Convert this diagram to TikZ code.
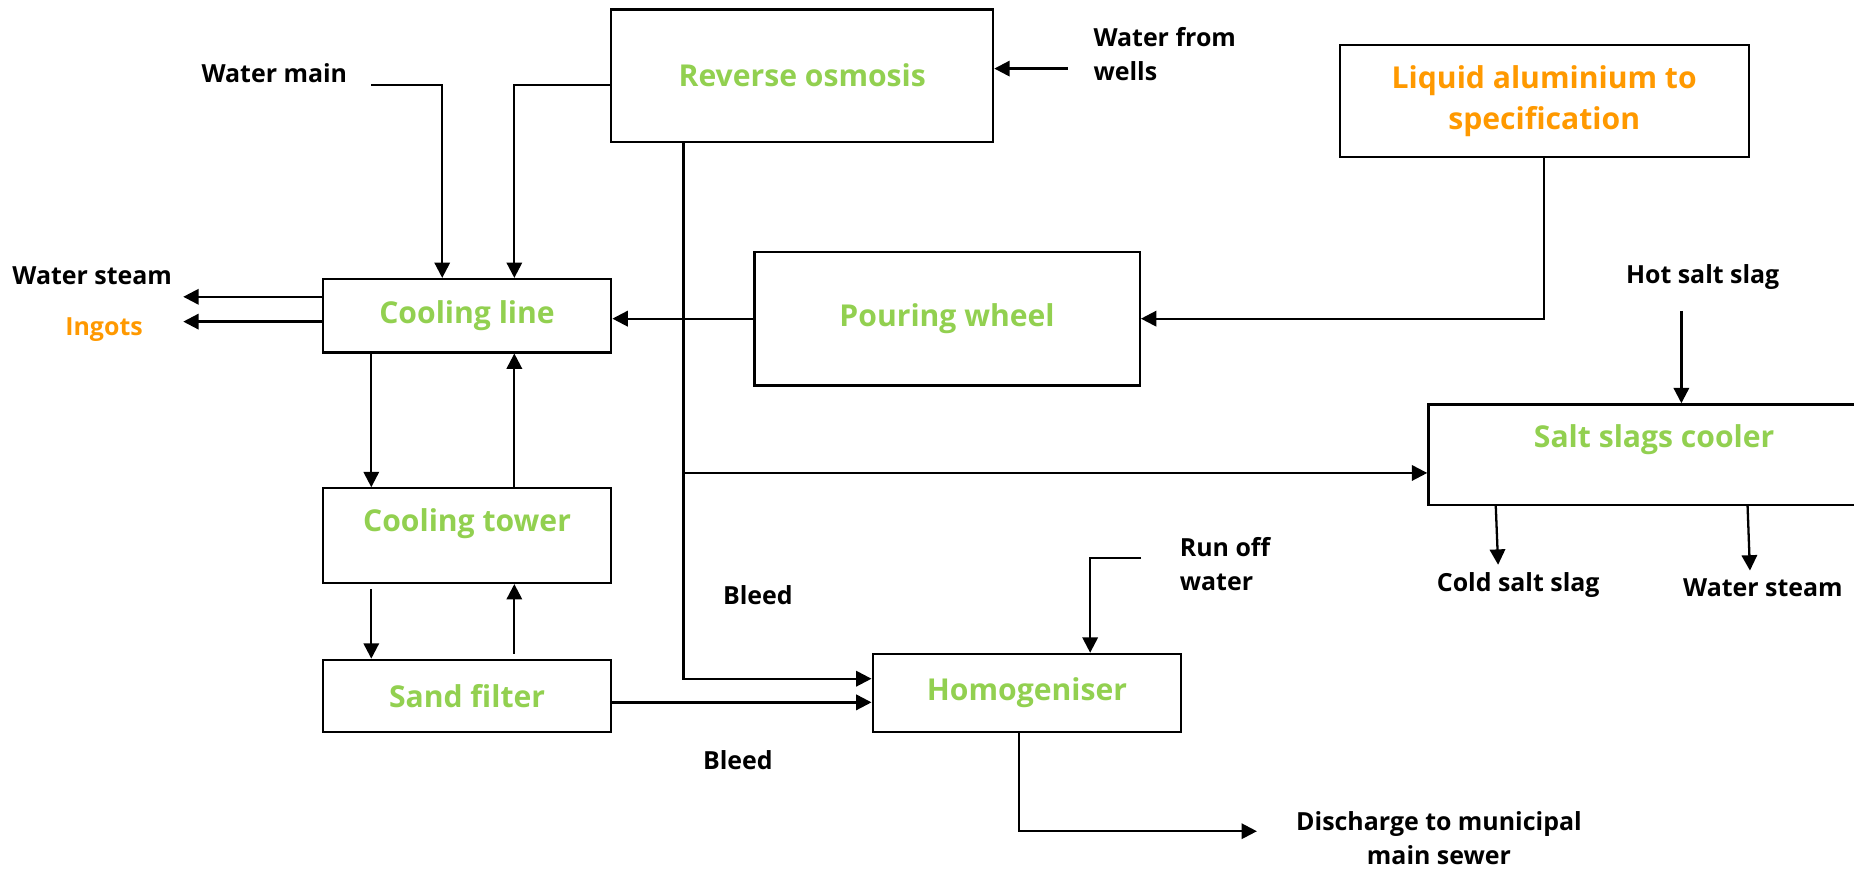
\documentclass[tikz,border=0pt]{standalone}
\usepackage{fontspec}
\setmainfont{Open Sans}
\usetikzlibrary{arrows.meta}

\definecolor{procgreen}{HTML}{92D050}
\definecolor{feedorange}{HTML}{FF9900}

\def\loopw{4.88cm}
\def\downx{-1.62cm}
\def\upx{0.8cm}

\begin{document}
\begin{tikzpicture}[x=0.02cm, y=-0.02cm, line width=1.1pt,
    gtxt/.style={font=\bfseries\fontsize{14.5}{19.5}\selectfont, text=procgreen, align=center},
    box/.style={draw, rectangle, inner sep=0pt, gtxt},
    lbl/.style={font=\bfseries\fontsize{12}{16.5}\selectfont, align=left},
    arr/.style={-{Triangle[length=0.26cm,width=0.26cm]}}]
    \useasboundingbox (0,0) rectangle (1568,738);

    % process units
    \node[box, minimum width=6.46cm, minimum height=2.24cm] (ro) at (678.5,64) {Reverse osmosis};
    \node[box, text=feedorange, minimum width=6.92cm, minimum height=1.9cm] (liq) at (1306,85.5) {Liquid aluminium to\\specification};
    \node[box, minimum width=6.52cm, minimum height=2.26cm] (pw) at (801,269.5) {Pouring wheel};
    \node[box, minimum width=\loopw, minimum height=1.24cm] (cl) at (395,267) {Cooling line};
    \node[box, minimum width=\loopw, minimum height=1.6cm,
        label={[gtxt, yshift=0.2cm]center:Cooling tower}] (ct) at (395,453) {};
    \node[box, minimum width=\loopw, minimum height=1.22cm] (sf) at (395,588.5) {Sand filter};
    \node[box, minimum width=5.22cm, minimum height=1.32cm] (hom) at (868.5,586) {Homogeniser};
    \node[box, minimum width=7.64cm, minimum height=1.7cm,
        label={[gtxt, yshift=0.26cm]center:Salt slags cooler}] (ssc) at (1399,384.5) {};

    % stream labels
    \node[lbl] (wm) at (232,62) {Water main};
    \node[lbl, anchor=west] (wfw) at (918,46) {Water from\\wells};
    \node[lbl] (wsl) at (78,233) {Water steam};
    \node[lbl, text=feedorange] (ing) at (88,279) {Ingots};
    \node[lbl] (hss) at (1440,234) {Hot salt slag};
    \node[lbl] (csl) at (1284,495) {Cold salt slag};
    \node[lbl] (wsr) at (1491,497) {Water steam};
    \node[lbl] (bl1) at (641,503) {Bleed};
    \node[lbl] (bl2) at (624,643) {Bleed};
    \node[lbl, anchor=west] (row) at (991,477) {Run off\\water};
    \node[lbl, align=center] (dis) at (1217,709) {Discharge to municipal\\main sewer};

    % water to the cooling line
    \coordinate (wmin) at (314,72);
    \draw[arr] (wmin) -| ([xshift=-0.42cm]cl.north);
    \draw[arr] ([yshift=-0.16cm]ro.west) -| ([xshift=\upx]cl.north);
    \coordinate (wellin) at (903,58);
    \draw[arr] (wellin) -- (wellin -| ro.east);

    % metal
    \draw[arr] (liq.south) |- (pw.east);
    \draw[arr] (pw.west) -- (pw.west -| cl.east);
    \coordinate (wsout) at (155,251);
    \coordinate (ingout) at (155,272);
    \draw[arr] (wsout -| cl.west) -- (wsout);
    \draw[arr] (ingout -| cl.west) -- (ingout);

    % cooling loop
    \foreach \top/\bot/\gap in {cl/ct/0cm, ct/sf/0.08cm} {
      \draw[arr] ([xshift=\downx, yshift=-\gap]\top.south) -- ([xshift=\downx]\bot.north);
      \draw[arr] ([xshift=\upx, yshift=\gap]\bot.north) -- ([xshift=\upx]\top.south);
    }

    % bleeds
    \coordinate (sfout) at ([yshift=-0.11cm]sf.east);
    \draw[arr] (sfout) -- (sfout -| hom.west);
    \coordinate (rob) at ([xshift=-2.01cm]ro.south);
    \draw[arr] (rob) |- ([yshift=0.24cm]hom.west);
    \coordinate (sscin) at ([yshift=-0.31cm]ssc.west);
    \draw[arr] (rob |- sscin) -- (sscin);

    % salt slags
    \coordinate (hssin) at (1422,263);
    \draw[arr] (hssin) -- (hssin |- ssc.north);
    \draw[arr] ([xshift=-2.68cm]ssc.south) -- ([xshift=-0.34cm]csl.north);
    \draw[arr] ([xshift=1.58cm]ssc.south) -- ([xshift=-0.22cm]wsr.north);

    % homogeniser
    \coordinate (rowin) at (965,472);
    \draw[arr] (rowin) -| ([xshift=1.07cm]hom.north);
    \coordinate (disout) at (1063,703);
    \draw[arr] ([xshift=-0.13cm]hom.south) |- (disout);
\end{tikzpicture}
\end{document}
